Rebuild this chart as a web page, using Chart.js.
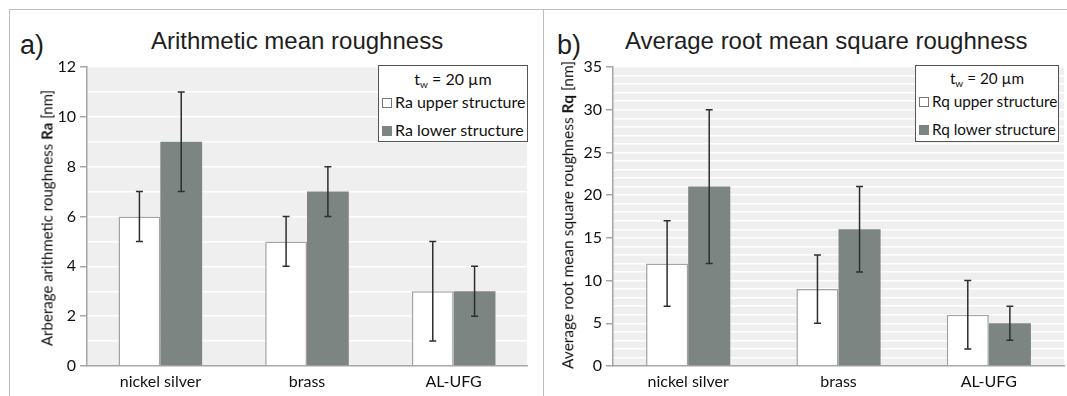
<!DOCTYPE html>
<html>
<head>
<meta charset="utf-8">
<script src="https://cdn.jsdelivr.net/npm/chart.js@4/dist/chart.umd.min.js"></script>
<style>
  html, body { margin:0; padding:0; background:#fff; }
  body { width:1067px; height:396px; position:relative; overflow:hidden; font-family: Lato, "Liberation Sans", sans-serif; }
  .frame { position:absolute; border-color:#bdbdbd; border-style:solid; }
  canvas { position:absolute; }
  .title { position:absolute; font-family:"Liberation Sans", Arial, sans-serif; font-size:24px; color:#1e1e1e; white-space:nowrap; line-height:1; }
  .tag { position:absolute; font-family:"Liberation Sans", Arial, sans-serif; font-size:27px; color:#1e1e1e; line-height:1; }
  .ytitle { position:absolute; color:#111; white-space:nowrap; transform: translate(-50%,-50%) rotate(-90deg); line-height:1; }
  .legend { position:absolute; background:#fff; border:1.5px solid #555; box-sizing:border-box; font-size:16px; color:#111; }
  .legend .hd { text-align:center; margin-top:3px; }
  .legend .row { position:absolute; left:3px; white-space:nowrap; }
  .mk { display:inline-block; width:10px; height:10px; box-sizing:border-box; margin-right:3px; vertical-align:0px; }
  sub { font-size:10px; vertical-align:-3px; }
</style>
</head>
<body>
<div class="frame" style="left:9px; top:9px; width:533px; height:400px; border-width:1.5px 1.5px 0 1.5px;"></div>
<div class="frame" style="left:542px; top:9px; width:540px; height:0px; border-width:1.5px 0 0 0;"></div>

<div class="tag" style="left:20px; top:32px;">a)</div>
<div class="title" style="left:151px; top:29px;">Arithmetic mean roughness</div>
<div class="tag" style="left:557px; top:32px;">b)</div>
<div class="title" style="left:625px; top:29px;">Average root mean square roughness</div>

<canvas id="ca" width="532" height="386" style="left:10px; top:10px;"></canvas>
<canvas id="cb" width="524" height="386" style="left:543px; top:10px;"></canvas>

<div class="ytitle" style="left:47px; top:218px; font-size:15px;">Arberage arithmetic roughness <b>Ra</b> [nm]</div>
<div class="ytitle" style="left:568px; top:215px; font-size:15.5px;">Average root mean square roughness <b>Rq</b> [nm]</div>

<div id="lega" class="legend" style="left:378px; top:65px; width:150px; height:77px;"></div>
<div id="legb" class="legend" style="left:915px; top:65px; width:144px; height:77px; font-size:15.3px;"></div>

<script>
const categories = ['nickel silver', 'brass', 'AL-UFG'];
const seriesA = ['Ra upper structure', 'Ra lower structure'];
const seriesB = ['Rq upper structure', 'Rq lower structure'];
const legendTitle = '20 µm';

const raUpper = [6, 5, 3];
const raUpperLow = [5, 4, 1];
const raUpperHigh = [7, 6, 5];
const raLower = [9, 7, 3];
const raLowerLow = [7, 6, 2];
const raLowerHigh = [11, 8, 4];

const rqUpper = [12, 9, 6];
const rqUpperLow = [7, 5, 2];
const rqUpperHigh = [17, 13, 10];
const rqLower = [21, 16, 5];
const rqLowerLow = [12, 11, 3];
const rqLowerHigh = [30, 21, 7];

const yTicksA = { max: 12, labelEvery: 2 };
const yTicksB = { max: 35, labelEvery: 5 };

const UPPER_FILL = '#ffffff', UPPER_BORDER = '#a3a3a3', LOWER_FILL = '#7d8583';
const AXIS = '#a6a6a6';
const TICKFONT = { family: 'Lato', size: 16 };

const bgPlugin = {
  id: 'plotbg',
  beforeDraw(chart) {
    const a = chart.chartArea, c = chart.ctx;
    c.save(); c.fillStyle = '#efefef';
    c.fillRect(a.left, a.top, a.right - a.left, a.bottom - a.top);
    c.restore();
  }
};
const errPlugin = {
  id: 'errbars',
  afterDatasetsDraw(chart) {
    const c = chart.ctx, ys = chart.scales.y;
    chart.data.datasets.forEach((ds, i) => {
      const meta = chart.getDatasetMeta(i);
      meta.data.forEach((bar, j) => {
        const x = bar.x;
        const y1 = ys.getPixelForValue(ds.errLow[j]);
        const y2 = ys.getPixelForValue(ds.errHigh[j]);
        c.save(); c.strokeStyle = '#2e2e2e'; c.lineWidth = 1.5;
        c.beginPath();
        c.moveTo(x, y1); c.lineTo(x, y2);
        c.moveTo(x - 3.5, y1); c.lineTo(x + 3.5, y1);
        c.moveTo(x - 3.5, y2); c.lineTo(x + 3.5, y2);
        c.stroke(); c.restore();
      });
    });
  }
};

function makeChart(id, labels, up, upL, upH, lo, loL, loH, ticks, pad, catPct) {
  return new Chart(document.getElementById(id), {
    type: 'bar',
    data: {
      labels: categories,
      datasets: [
        { label: labels[0], data: up, errLow: upL, errHigh: upH, backgroundColor: UPPER_FILL, borderColor: UPPER_BORDER, borderWidth: 1.5, borderSkipped: 'bottom' },
        { label: labels[1], data: lo, errLow: loL, errHigh: loH, backgroundColor: LOWER_FILL, borderWidth: 0 }
      ]
    },
    options: {
      responsive: false, animation: false,
      layout: { padding: pad },
      datasets: { bar: { categoryPercentage: catPct, barPercentage: 1 } },
      plugins: { legend: { display: false }, title: { display: false }, tooltip: { enabled: false } },
      scales: {
        x: {
          grid: { display: false, drawTicks: false },
          border: { color: AXIS, width: 1.5 },
          ticks: { color: '#111', font: TICKFONT, padding: 6, maxRotation: 0 },
          afterFit(s) { s.height = 30; }
        },
        y: {
          min: 0, max: ticks.max,
          border: { color: AXIS, width: 1.5 },
          grid: {
            color: ctx => (ctx.tick && ctx.tick.value === 0) ? 'rgba(0,0,0,0)' : '#ffffff',
            lineWidth: 1.5,
            tickLength: 7,
            tickColor: ctx => (ctx.tick && ctx.tick.value % ticks.labelEvery === 0) ? AXIS : 'rgba(0,0,0,0)'
          },
          ticks: {
            stepSize: 1, autoSkip: false, color: '#111', font: TICKFONT, padding: 4,
            callback: v => (v % ticks.labelEvery === 0 ? v : '')
          },
          afterFit(s) { s.width = 30; }
        }
      }
    },
    plugins: [bgPlugin, errPlugin]
  });
}

makeChart('ca', seriesA, raUpper, raUpperLow, raUpperHigh, raLower, raLowerLow, raLowerHigh, yTicksA,
  { left: 47, top: 57, right: 15, bottom: 0 }, 0.57);
makeChart('cb', seriesB, rqUpper, rqUpperLow, rqUpperHigh, rqLower, rqLowerLow, rqLowerHigh, yTicksB,
  { left: 40, top: 57, right: 3, bottom: 0 }, 0.56);

function buildLegend(id, labels) {
  const el = document.getElementById(id);
  el.innerHTML =
    '<div class="hd">t<sub>w</sub> = ' + legendTitle + '</div>' +
    '<div class="row" style="top:26px;"><span class="mk" style="background:#fff;border:1px solid #777;"></span>' + labels[0] + '</div>' +
    '<div class="row" style="top:54px;"><span class="mk" style="background:' + LOWER_FILL + ';"></span>' + labels[1] + '</div>';
}
buildLegend('lega', seriesA);
buildLegend('legb', seriesB);
</script>
</body>
</html>
